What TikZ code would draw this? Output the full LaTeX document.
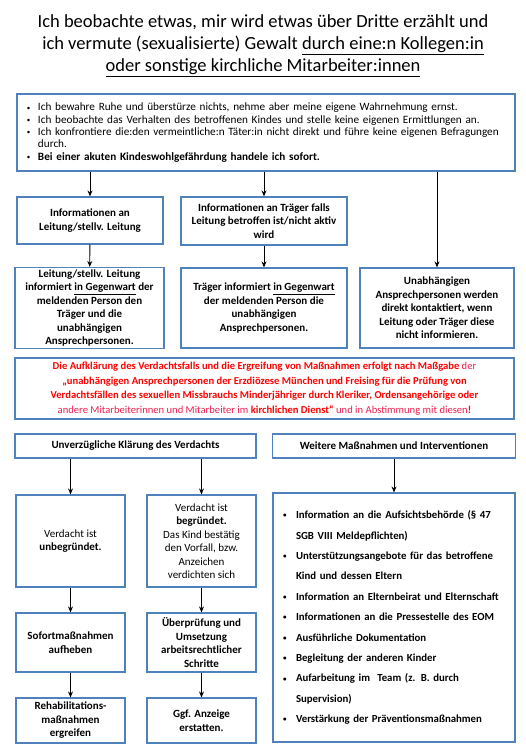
\documentclass[tikz,border=0pt]{standalone}
\usepackage{fontspec}
\setmainfont{Carlito}
\usetikzlibrary{positioning,arrows.meta}
\definecolor{boxblue}{RGB}{79,129,189}
\definecolor{hotred}{RGB}{255,0,0}
\definecolor{softred}{RGB}{236,30,80}
\newcommand{\itm}[1]{\makebox[#1][l]{\raisebox{0.6pt}{\fontsize{7}{7}\selectfont\textbullet}}}

\begin{document}
\begin{tikzpicture}[x=1pt, y=-1pt,
    box/.style={draw=boxblue, line width=1.2pt, align=center, inner sep=2pt,
        font=\fontsize{11}{13.5}\selectfont},
    arr/.style={-{Stealth[length=6pt,width=5pt]}, line width=0.9pt}]
        \useasboundingbox (0,0) rectangle (526,755);

        \node[align=center, font=\fontsize{18.5}{22}\selectfont] (title) at (263,46)
            {Ich beobachte etwas, mir wird etwas über Dritte erzählt und\\
             ich vermute (sexualisierte) Gewalt \underline{durch eine:n Kollegen:in}\\
             \underline{oder sonstige kirchliche Mitarbeiter:innen}};

        % erste Reaktion
        \node[box, align=left, inner xsep=10pt, text width=478pt, minimum height=77pt,
            font=\fontsize{11.2}{12.3}\selectfont] (ruhe) at (266,132.5)
            {\itm{11pt}Ich bewahre Ruhe und überstürze nichts, nehme aber meine eigene Wahrnehmung ernst.\\
             \itm{11pt}Ich beobachte das Verhalten des betroffenen Kindes und stelle keine eigenen Ermittlungen an.\\
             \mbox{\itm{11pt}Ich konfrontiere die:den vermeintliche:n Täter:in nicht direkt und führe keine eigenen Befragungen}\\
             \hspace*{11pt}durch.\\
             \itm{11pt}\textbf{Bei einer akuten Kindeswohlgefährdung handele ich sofort.}};

        \node[box, minimum width=146pt, minimum height=47pt] (leitung) at (90,220.5)
            {\textbf{Informationen an}\\ \textbf{Leitung/stellv. Leitung}};
        \node[box, minimum width=166pt, minimum height=48pt] (traeger) at (264,221)
            {\textbf{Informationen an Träger falls}\\ \textbf{Leitung betroffen ist/nicht aktiv}\\ \textbf{wird}};

        \node[box, minimum width=149pt, minimum height=80pt] (leitinfo) at (89.5,308)
            {\textbf{Leitung/stellv. Leitung}\\ \textbf{informiert \underline{in Gegenwart} der}\\
             \textbf{meldenden Person den}\\ \textbf{Träger und die}\\ \textbf{unabhängigen}\\ \textbf{Ansprechpersonen.}};
        \node[box, minimum width=166pt, minimum height=80pt] (traeginfo) at (264,308)
            {\textbf{Träger informiert \underline{in Gegenwart}}\\ \textbf{der meldenden Person die}\\
             \textbf{unabhängigen}\\ \textbf{Ansprechpersonen.}};
        \node[box, minimum width=154pt, minimum height=80pt] (direkt) at (437,308)
            {\textbf{Unabhängigen}\\ \textbf{Ansprechpersonen werden}\\ \textbf{direkt kontaktiert, wenn}\\
             \textbf{Leitung oder Träger diese}\\ \textbf{nicht informieren.}};

        \draw[arr] (ruhe.south -| leitung.north) -- (leitung.north);
        \draw[arr] (ruhe.south -| traeger.north) -- (traeger.north);
        \draw[arr] (ruhe.south -| direkt.north) -- (direkt.north);
        \draw[arr] (leitung) -- (leitinfo);
        \draw[arr] (traeger) -- (traeginfo);

        % Massgabe
        \node[box, text=hotred, minimum width=499pt, minimum height=61pt,
            font=\fontsize{10.6}{14.6}\selectfont] (massgabe) at (264.5,388.5)
            {\textbf{Die Aufklärung des Verdachtsfalls und die Ergreifung von Maßnahmen erfolgt nach Maßgabe} {\color{softred}der}\\
             \textbf{„unabhängigen Ansprechpersonen der Erzdiözese München und Freising für die Prüfung von}\\
             \textbf{Verdachtsfällen des sexuellen Missbrauchs Minderjähriger durch Kleriker, Ordensangehörige oder}\\
             {\color{softred}andere Mitarbeiterinnen und Mitarbeiter im} \textbf{kirchlichen Dienst“} {\color{softred}und in Abstimmung mit diesen}\textbf{!}};

        % Klaerung
        \node[box, minimum width=241pt, minimum height=24pt] (klaerung) at (135.5,446)
            {\textbf{Unverzügliche Klärung des Verdachts}};
        \node[box, minimum width=109pt, minimum height=92pt] (unbegr) at (70.5,541)
            {Verdacht ist\\ \textbf{unbegründet.}};
        \node[box, minimum width=109pt, minimum height=92pt] (begr) at (201.5,541)
            {Verdacht ist\\ \textbf{begründet.}\\ Das Kind bestätig\\ den Vorfall, bzw.\\ Anzeichen\\ verdichten sich};
        \node[box, minimum width=109pt, minimum height=59pt] (sofort) at (70.5,642.5)
            {\textbf{Sofortmaßnahmen}\\ \textbf{aufheben}};
        \node[box, minimum width=109pt, minimum height=59pt] (pruef) at (201.5,642.5)
            {\textbf{Überprüfung und}\\ \textbf{Umsetzung}\\ \textbf{arbeitsrechtlicher}\\ \textbf{Schritte}};
        \node[box, minimum width=109pt, minimum height=45pt] (reha) at (70.5,720.5)
            {\textbf{Rehabilitations-}\\ \textbf{maßnahmen}\\ \textbf{ergreifen}};
        \node[box, minimum width=109pt, minimum height=45pt] (anzeige) at (201.5,720.5)
            {\textbf{Ggf. Anzeige}\\ \textbf{erstatten.}};

        \draw[arr] (klaerung.south -| unbegr.north) -- (unbegr.north);
        \draw[arr] (klaerung.south -| begr.north) -- (begr.north);
        \draw[arr] (unbegr) -- (sofort);
        \draw[arr] (begr) -- (pruef);
        \draw[arr] (sofort) -- (reha);
        \draw[arr] (pruef) -- (anzeige);

        % weitere Massnahmen
        \node[box, minimum width=243pt, minimum height=24pt] (weitere) at (394,446)
            {\textbf{Weitere Maßnahmen und Interventionen}};
        \node[box, align=left, inner xsep=10pt, text width=222pt, minimum height=249pt,
            font=\fontsize{10.8}{20.4}\selectfont\bfseries] (liste) at (394,617.5)
            {\itm{13pt}Information an die Aufsichtsbehörde (§ 47\\
             \hspace*{13pt}SGB VIII Meldepflichten)\\
             \itm{13pt}Unterstützungsangebote für das betroffene\\
             \hspace*{13pt}Kind und dessen Eltern\\
             \itm{13pt}Information an Elternbeirat und Elternschaft\\
             \itm{13pt}Informationen an die Pressestelle des EOM\\
             \itm{13pt}Ausführliche Dokumentation\\
             \itm{13pt}Begleitung der anderen Kinder\\
             \itm{13pt}Aufarbeitung im\ \ Team (z. B. durch\\
             \hspace*{13pt}Supervision)\\
             \itm{13pt}Verstärkung der Präventionsmaßnahmen};

        \draw[arr] (weitere) -- (liste);
    \end{tikzpicture}
\end{document}
